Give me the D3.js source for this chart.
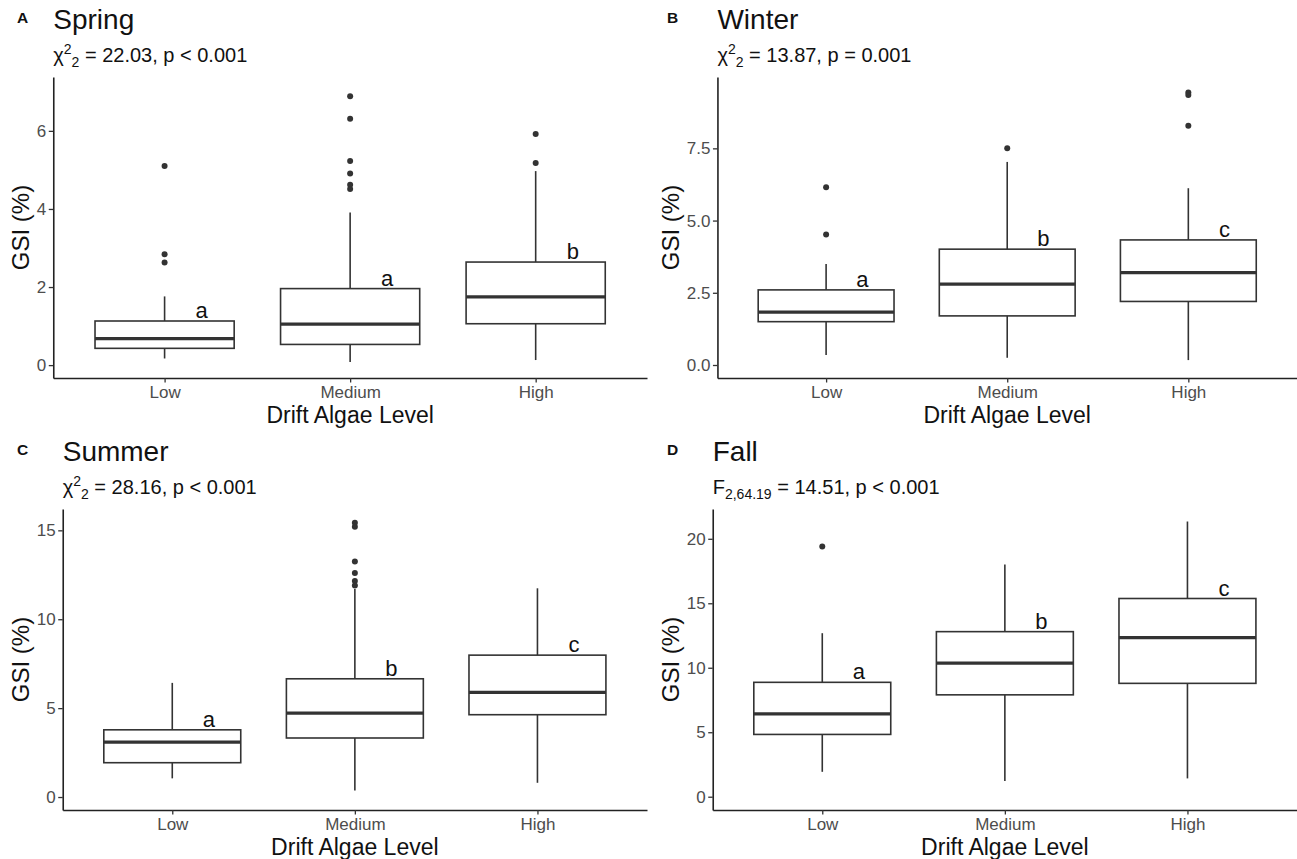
<!DOCTYPE html>
<html>
<head>
<meta charset="utf-8">
<script src="https://cdn.jsdelivr.net/npm/d3@7"></script>
<style>
  body { margin: 0; background: #fff; }
  text { font-family: "Liberation Sans", Arial, Helvetica, sans-serif; }
</style>
</head>
<body>
<svg id="chart" width="1297" height="859"></svg>
<script>
// ---- data ----------------------------------------------------------------
const categories = ["Low", "Medium", "High"];
const panelTags = ["A", "B", "C", "D"];
const seasons = ["Spring", "Winter", "Summer", "Fall"];

// box statistics per drift algae level: [lower whisker, Q1, median, Q3, upper whisker]
const springStats = [[0.17, 0.43, 0.68, 1.13, 1.76], [0.08, 0.53, 1.05, 1.96, 3.91], [0.13, 1.06, 1.75, 2.64, 4.97]];
const springOutliers = [[5.10, 2.84, 2.63], [6.89, 6.31, 5.23, 4.91, 4.62, 4.51], [5.92, 5.18]];
const springLetters = ["a", "a", "b"];
const springTicks = [0, 2, 4, 6];
const springTickLabels = ["0", "2", "4", "6"];
const springDomain = [-0.33, 7.38];
const springTest = ["χ", "2", "2", " = 22.03, p < 0.001"];

const winterStats = [[0.35, 1.50, 1.83, 2.60, 3.50], [0.25, 1.70, 2.80, 4.01, 7.03], [0.17, 2.20, 3.20, 4.33, 6.12]];
const winterOutliers = [[6.15, 4.52], [7.50], [9.43, 9.35, 8.28]];
const winterLetters = ["a", "b", "c"];
const winterTicks = [0, 2.5, 5, 7.5];
const winterTickLabels = ["0.0", "2.5", "5.0", "7.5"];
const winterDomain = [-0.45, 9.97];
const winterTest = ["χ", "2", "2", " = 13.87, p = 0.001"];

const summerStats = [[1.05, 1.93, 3.09, 3.78, 6.42], [0.36, 3.32, 4.72, 6.65, 11.70], [0.80, 4.63, 5.89, 7.98, 11.74]];
const summerOutliers = [[], [15.42, 15.20, 13.25, 12.60, 12.15, 11.90], []];
const summerLetters = ["a", "b", "c"];
const summerTicks = [0, 5, 10, 15];
const summerTickLabels = ["0", "5", "10", "15"];
const summerDomain = [-0.73, 16.2];
const summerTest = ["χ", "2", "2", " = 28.16, p < 0.001"];

const fallStats = [[1.93, 4.83, 6.43, 8.87, 12.68], [1.21, 7.90, 10.36, 12.80, 18.00], [1.42, 8.79, 12.34, 15.37, 21.34]];
const fallOutliers = [[19.41], [], []];
const fallLetters = ["a", "b", "c"];
const fallTicks = [0, 5, 10, 15, 20];
const fallTickLabels = ["0", "5", "10", "15", "20"];
const fallDomain = [-1.03, 22.31];
const fallTest = ["F", "", "2,64.19", " = 14.51, p < 0.001"];

const xTitle = "Drift Algae Level";
const yTitle = "GSI (%)";

// ---- assemble panels ------------------------------------------------------
const panels = [
  { stats: springStats, outliers: springOutliers, letters: springLetters, ticks: springTicks, tickLabels: springTickLabels, domain: springDomain, test: springTest },
  { stats: winterStats, outliers: winterOutliers, letters: winterLetters, ticks: winterTicks, tickLabels: winterTickLabels, domain: winterDomain, test: winterTest },
  { stats: summerStats, outliers: summerOutliers, letters: summerLetters, ticks: summerTicks, tickLabels: summerTickLabels, domain: summerDomain, test: summerTest },
  { stats: fallStats, outliers: fallOutliers, letters: fallLetters, ticks: fallTicks, tickLabels: fallTickLabels, domain: fallDomain, test: fallTest }
].map((p, i) => Object.assign(p, { tag: panelTags[i], season: seasons[i] }));

const svg = d3.select("#chart");
const INK = "#333333";
const TICK_TEXT = "#4d4d4d";
const TICK_FONT = 17;

panels.forEach((p, i) => {
  const col = i % 2, row = Math.floor(i / 2);
  const x0 = col * 650, y0 = row * 432;
  const top = y0 + 77, bottom = y0 + 378;
  const g = svg.append("g");

  // measure the widest y tick label so the panel starts right after it
  const probe = g.append("text").attr("font-size", TICK_FONT);
  let maxW = 0;
  p.tickLabels.forEach(t => { probe.text(t); maxW = Math.max(maxW, probe.node().getComputedTextLength()); });
  probe.remove();
  const left = x0 + 37 + maxW + 6.8;
  const right = x0 + 647;

  const y = d3.scaleLinear().domain(p.domain).range([bottom, top]);
  const x = d3.scalePoint().domain(categories).range([left, right]).padding(0.6);
  const step = x.step();
  const bw = 0.75 * step;

  // headings
  g.append("text").attr("x", x0 + 17).attr("y", y0 + 23)
    .attr("font-size", 15.5).attr("font-weight", "bold").attr("fill", "#111").text(p.tag);
  g.append("text").attr("x", left).attr("y", y0 + 28.5)
    .attr("font-size", 28).attr("fill", "#111").text(p.season);
  const sub = g.append("text").attr("x", left).attr("y", y0 + 62)
    .attr("font-size", 20).attr("fill", "#111");
  sub.append("tspan").text(p.test[0]);
  if (p.test[1]) sub.append("tspan").attr("font-size", 14).attr("dy", -8).text(p.test[1]);
  sub.append("tspan").attr("font-size", 14).attr("dy", p.test[1] ? 13 : 5).text(p.test[2]);
  sub.append("tspan").attr("dy", -5).text(p.test[3]);

  // axes
  const yAxis = g.append("g").attr("transform", `translate(${left},0)`)
    .call(d3.axisLeft(y).tickValues(p.ticks).tickFormat((d, k) => p.tickLabels[k])
      .tickSize(4.5).tickSizeOuter(0).tickPadding(2.5));
  const xAxis = g.append("g").attr("transform", `translate(0,${bottom})`)
    .call(d3.axisBottom(x).tickSize(4.5).tickSizeOuter(0).tickPadding(3));
  [yAxis, xAxis].forEach(ax => {
    ax.select(".domain").attr("stroke", "#222").attr("stroke-width", 1.6);
    ax.selectAll(".tick line").attr("stroke", INK).attr("stroke-width", 1.3);
    ax.selectAll(".tick text").attr("font-size", TICK_FONT).attr("fill", TICK_TEXT)
      .attr("font-family", "Liberation Sans, Arial, sans-serif");
  });
  xAxis.selectAll(".tick text").attr("dy", "0.72em");

  // axis titles
  g.append("text").attr("x", (left + right) / 2).attr("y", y0 + 423)
    .attr("text-anchor", "middle").attr("font-size", 23).attr("fill", "#111").text(xTitle);
  g.append("text").attr("transform", `translate(${x0 + 29},${(top + bottom) / 2}) rotate(-90)`)
    .attr("text-anchor", "middle").attr("font-size", 24).attr("fill", "#111").text(yTitle);

  // boxes
  categories.forEach((c, k) => {
    const [lw, q1, med, q3, uw] = p.stats[k];
    const cx = x(c);
    const bx = g.append("g");
    bx.append("line").attr("x1", cx).attr("x2", cx).attr("y1", y(q3)).attr("y2", y(uw))
      .attr("stroke", INK).attr("stroke-width", 1.6);
    bx.append("line").attr("x1", cx).attr("x2", cx).attr("y1", y(q1)).attr("y2", y(lw))
      .attr("stroke", INK).attr("stroke-width", 1.6);
    bx.append("rect").attr("x", cx - bw / 2).attr("y", y(q3))
      .attr("width", bw).attr("height", y(q1) - y(q3))
      .attr("fill", "#fff").attr("stroke", INK).attr("stroke-width", 1.6);
    bx.append("line").attr("x1", cx - bw / 2).attr("x2", cx + bw / 2)
      .attr("y1", y(med)).attr("y2", y(med))
      .attr("stroke", INK).attr("stroke-width", 3.2);
    bx.selectAll("circle").data(p.outliers[k]).join("circle")
      .attr("cx", cx).attr("cy", d => y(d)).attr("r", 3).attr("fill", INK);
    g.append("text").attr("x", cx + 0.2 * step).attr("y", y(q3) - 3)
      .attr("text-anchor", "middle").attr("font-size", 22).attr("fill", "#111")
      .text(p.letters[k]);
  });
});
</script>
</body>
</html>
